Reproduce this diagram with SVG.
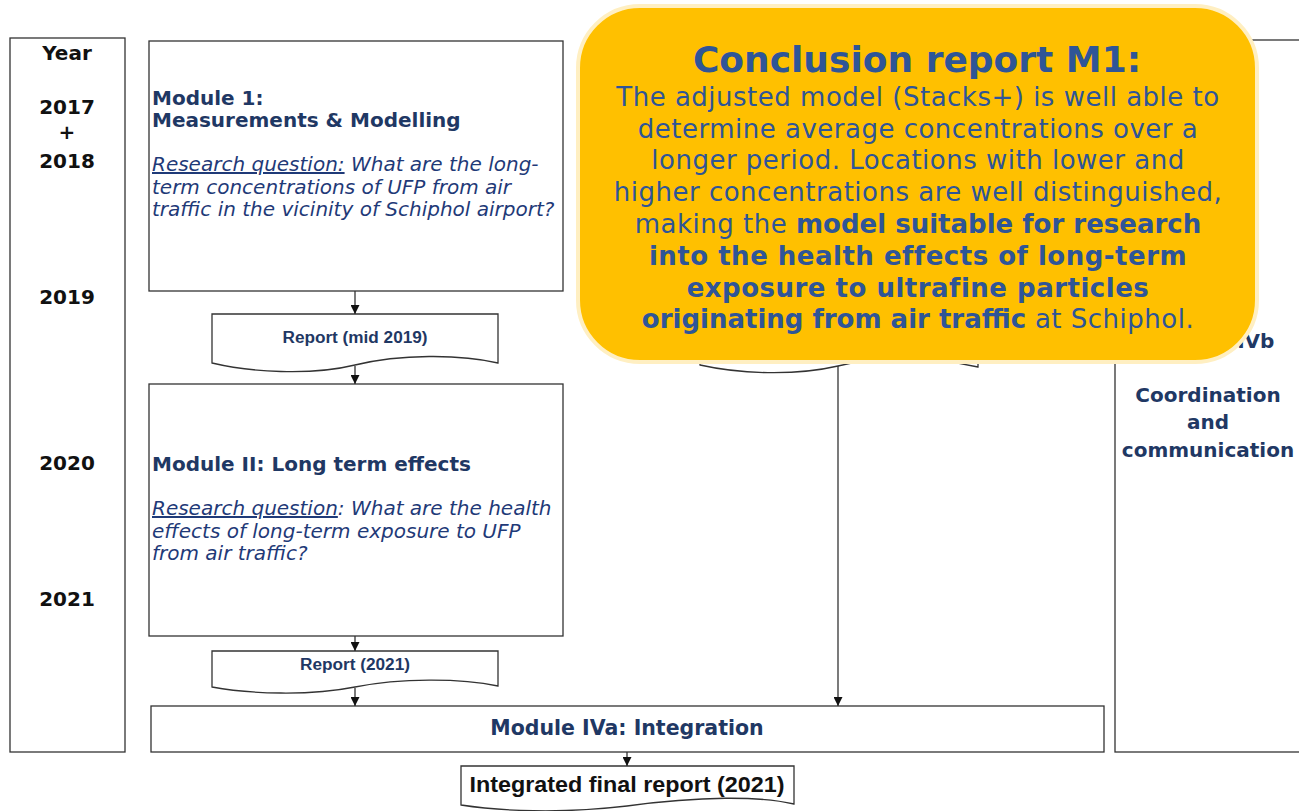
<svg xmlns="http://www.w3.org/2000/svg" width="1299" height="811" viewBox="0 0 1299 811">
<defs>
<style>
.box{fill:#fff;stroke:#333;stroke-width:1.3}
.line{fill:none;stroke:#333;stroke-width:1.3}
.yr{font-family:"DejaVu Sans",Verdana,sans-serif;font-weight:bold;font-size:20px;fill:#111;text-anchor:middle}
.mt{font-family:"DejaVu Sans",Verdana,sans-serif;font-weight:bold;font-size:20px;fill:#1F3864}
.rq{font-family:"DejaVu Sans",Verdana,sans-serif;font-style:italic;font-size:20px;fill:#1F3A78}
.rep{font-family:"Liberation Sans",Arial,sans-serif;font-weight:bold;font-size:16px;fill:#1F3864;text-anchor:middle}
.cw{font-family:"DejaVu Sans",Verdana,sans-serif;font-weight:bold;font-size:20px;fill:#1F3864;text-anchor:middle}
.ct{font-family:"DejaVu Sans",Verdana,sans-serif;font-weight:bold;font-size:36px;fill:#2F5597;text-anchor:middle}
.cb{font-family:"DejaVu Sans",Verdana,sans-serif;font-size:26px;letter-spacing:0.5px;fill:#2F5597;text-anchor:middle}
</style>
<marker id="ah" viewBox="0 0 10 10" refX="10" refY="5" markerWidth="9" markerHeight="9" markerUnits="userSpaceOnUse" orient="auto">
<path d="M0,0 L10,5 L0,10 Z" fill="#111"/>
</marker>
</defs>
<rect width="1299" height="811" fill="#fff"/>

<g id="year-column">
<rect class="box" x="10" y="38" width="115" height="714"/>
<text class="yr" x="67" y="60">Year</text>
<text class="yr" x="67" y="114">2017</text>
<text class="yr" x="67" y="139">+</text>
<text class="yr" x="67" y="168">2018</text>
<text class="yr" x="67" y="304">2019</text>
<text class="yr" x="67" y="470">2020</text>
<text class="yr" x="67" y="606">2021</text>
</g>

<g id="module-ivb">
<rect class="box" x="1115" y="40" width="200" height="712"/>
<text class="cw" x="1211" y="348">Module IVb</text>
<text class="cw" x="1208" y="402">Coordination</text>
<text class="cw" x="1208" y="429">and</text>
<text class="cw" x="1208" y="457">communication</text>
</g>

<g id="module-1">
<rect class="box" x="149" y="41" width="414" height="250"/>
<text class="mt" x="152" y="105">Module 1:</text>
<text class="mt" x="152" y="127">Measurements &amp; Modelling</text>
<text class="rq" x="152" y="171"><tspan text-decoration="underline">Research question:</tspan> What are the long-</text>
<text class="rq" x="152" y="193.5">term concentrations of UFP from air</text>
<text class="rq" x="152" y="216">traffic in the vicinity of Schiphol airport?</text>
</g>

<g id="report-mid-2019">
<path class="box" d="M212,314 H498 V363 C460,354 400,354 355,365 C310,376 250,372 212,363 Z"/>
<text class="rep" x="355" y="343" textLength="145" lengthAdjust="spacingAndGlyphs">Report (mid 2019)</text>
</g>

<g id="module-ii">
<rect class="box" x="149" y="384" width="414" height="252"/>
<text class="mt" x="152" y="471">Module II: Long term effects</text>
<text class="rq" x="152" y="515"><tspan text-decoration="underline">Research question</tspan>: What are the health</text>
<text class="rq" x="152" y="537.5">effects of long-term exposure to UFP</text>
<text class="rq" x="152" y="560">from air traffic?</text>
</g>

<g id="report-2021">
<path class="box" d="M212,651 H498 V686 C460,678 400,678 355,687 C310,696 250,694 212,687 Z"/>
<text class="rep" x="355" y="670" textLength="110" lengthAdjust="spacingAndGlyphs">Report (2021)</text>
</g>

<g id="report-hidden">
<path class="box" d="M700,314 H978 V367 C940,358 880,356 838,366 C795,376 740,374 700,365 Z"/>
</g>

<g id="module-iva">
<rect class="box" x="151" y="706" width="953" height="46"/>
<text class="cw" x="627" y="735" style="font-size:20.5px">Module IVa: Integration</text>
</g>

<g id="final-report">
<path class="box" d="M461,766 H794 V804 C760,796 700,796 627,806 C560,814 500,811 461,805 Z"/>
<text x="627" y="792" font-family="Liberation Sans, Arial, sans-serif" font-weight="bold" font-size="22" fill="#111" text-anchor="middle" textLength="315" lengthAdjust="spacingAndGlyphs">Integrated final report (2021)</text>
</g>

<g id="connectors">
<line class="line" x1="355" y1="291" x2="355" y2="314" marker-end="url(#ah)"/>
<line class="line" x1="355" y1="366" x2="355" y2="384" marker-end="url(#ah)"/>
<line class="line" x1="355" y1="636" x2="355" y2="651" marker-end="url(#ah)"/>
<line class="line" x1="355" y1="688" x2="355" y2="706" marker-end="url(#ah)"/>
<line class="line" x1="838" y1="366" x2="838" y2="706" marker-end="url(#ah)"/>
<line class="line" x1="627" y1="752" x2="627" y2="766" marker-end="url(#ah)"/>
</g>

<g id="callout">
<rect x="578" y="6" width="679" height="356" rx="62" ry="62" fill="#FFC000" stroke="#FFEFC2" stroke-width="4"/>
<text class="ct" x="917" y="72">Conclusion report M1:</text>
<text class="cb" x="918" y="106">The adjusted model (Stacks+) is well able to</text>
<text class="cb" x="918" y="138">determine average concentrations over a</text>
<text class="cb" x="918" y="169">longer period. Locations with lower and</text>
<text class="cb" x="918" y="201">higher concentrations are well distinguished,</text>
<text class="cb" x="918" y="233">making the <tspan font-weight="bold" letter-spacing="0">model suitable for research</tspan></text>
<text class="cb" x="918" y="265" font-weight="bold" letter-spacing="0">into the health effects of long-term</text>
<text class="cb" x="918" y="297" font-weight="bold" letter-spacing="0">exposure to ultrafine particles</text>
<text class="cb" x="918" y="328"><tspan font-weight="bold" letter-spacing="0">originating from air traffic</tspan> at Schiphol.</text>
</g>
</svg>
